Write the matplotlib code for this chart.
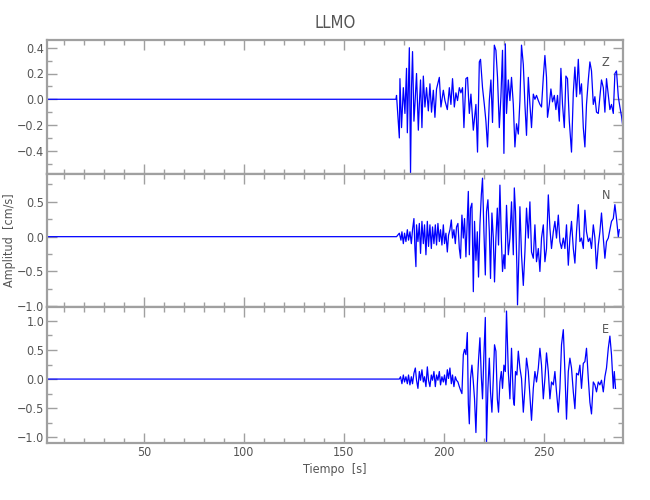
import numpy as np
import matplotlib
matplotlib.use('Agg')
from matplotlib import pyplot as plt
from matplotlib.ticker import MultipleLocator

plt.rcParams['font.family'] = ['DejaVu Sans']
plt.rcParams['font.stretch'] = 'condensed'

t_z = [0.0, 176.0, 176.3, 177.7, 178.0, 178.8, 179.7, 180.5, 181.3, 181.7, 182.7,
       183.3, 183.8, 184.3, 185.0, 185.5, 186.3, 187.2, 187.7, 188.3, 189.0,
       189.7, 190.5, 191.3, 192.2, 193.0, 193.8, 194.7, 195.5, 196.3, 197.7,
       198.5, 199.7, 200.5, 201.7, 202.7, 203.5, 204.3, 205.2, 206.0, 206.8,
       207.7, 208.5, 209.3, 210.0, 211.0, 211.8, 212.7, 213.5, 214.7, 216.0,
       216.8, 217.7, 218.3, 219.3, 220.2, 221.0, 221.8, 222.7, 223.5, 224.3,
       225.2, 226.0, 226.8, 227.7, 228.5, 229.3, 230.0, 230.7, 231.3, 232.2,
       233.0, 233.8, 234.7, 235.5, 236.3, 237.2, 238.0, 238.8, 239.7, 240.5,
       241.3, 242.2, 243.0, 243.8, 244.7, 245.5, 246.3, 247.2, 248.0, 248.8,
       249.7, 250.5, 251.3, 251.8, 252.7, 253.5, 254.3, 255.2, 256.0, 256.8,
       257.7, 258.5, 259.3, 260.2, 261.0, 261.8, 262.7, 263.8, 264.7, 265.5,
       266.3, 267.2, 268.0, 268.8, 269.7, 270.5, 271.3, 272.2, 273.0, 273.8,
       274.7, 275.5, 276.3, 277.2, 278.0, 278.8, 279.7, 280.5, 281.3, 282.2,
       283.0, 283.8, 284.7, 285.5, 286.3, 287.2, 288.0, 288.8, 289.7]
a_z = [0.0, 0.0, 0.03, -0.30, 0.16, -0.22, 0.09, -0.11, 0.24, -0.26, 0.40,
       -0.57, 0.09, 0.37, -0.17, -0.04, 0.20, -0.24, -0.04, 0.15, -0.22,
       0.18, -0.06, 0.09, -0.09, 0.12, -0.10, 0.07, -0.14, 0.08, 0.17,
       -0.06, 0.07, -0.01, -0.08, 0.09, -0.04, 0.16, -0.06, 0.05, -0.01,
       0.09, 0.05, 0.09, -0.22, 0.16, 0.17, -0.11, 0.04, -0.24, -0.04,
       -0.41, 0.29, 0.31, 0.09, -0.04, -0.17, -0.37, -0.01, 0.15, -0.18,
       0.42, 0.38, 0.17, -0.22, 0.02, 0.38, -0.42, 0.43, -0.11, 0.15,
       -0.01, 0.17, -0.04, -0.37, -0.19, -0.27, -0.01, 0.42, 0.27, -0.04,
       -0.28, 0.17, -0.04, -0.22, 0.04, 0.00, 0.03, -0.01, -0.04, -0.06,
       0.17, 0.34, 0.17, -0.14, -0.04, 0.08, -0.02, 0.03, -0.08, 0.03,
       -0.17, 0.24, -0.04, -0.22, 0.18, 0.16, -0.17, -0.41, 0.05, 0.25,
       0.02, 0.31, 0.04, 0.12, -0.22, -0.37, -0.04, 0.15, 0.29, 0.22,
       -0.04, 0.02, -0.10, -0.11, 0.02, 0.15, 0.09, -0.10, 0.16, 0.03,
       -0.08, -0.04, -0.11, 0.20, 0.22, 0.02, -0.06, -0.13, -0.24]

t_n = [0.0, 176.3, 177.7, 178.5, 179.0, 179.7, 180.3, 181.0, 181.7, 182.3, 183.0,
       183.7, 184.3, 185.0, 185.5, 186.0, 186.3, 187.0, 187.7, 188.3, 189.0,
       189.7, 190.3, 191.0, 191.7, 192.3, 193.0, 193.7, 194.3, 195.0, 195.7,
       196.3, 197.0, 197.7, 198.3, 199.0, 199.7, 200.3, 201.0, 201.7, 202.3,
       203.0, 203.7, 204.3, 205.0, 205.7, 206.3, 207.0, 207.7, 208.3, 209.0,
       209.7, 210.3, 211.0, 211.7, 212.2, 212.7, 213.3, 214.0, 214.7, 215.3,
       216.0, 216.7, 217.3, 218.0, 218.7, 219.3, 220.0, 220.7, 221.3, 222.0,
       222.7, 223.3, 224.0, 224.7, 225.3, 226.0, 226.7, 227.3, 228.0, 228.7,
       229.3, 230.0, 230.5, 231.3, 232.2, 233.0, 233.8, 234.7, 235.2, 235.8,
       236.5, 236.8, 237.5, 238.0, 238.8, 239.7, 240.5, 241.3, 242.2, 243.0,
       243.8, 244.7, 245.5, 246.3, 247.2, 248.0, 248.8, 249.7, 250.5, 251.3,
       252.2, 253.0, 253.8, 254.7, 255.5, 256.3, 257.2, 258.0, 258.8, 259.7,
       260.5, 261.3, 262.2, 263.0, 263.8, 264.7, 265.5, 266.3, 267.2, 268.0,
       268.8, 269.7, 270.5, 271.3, 272.2, 273.0, 273.8, 274.7, 275.5, 276.3,
       277.2, 278.0, 278.8, 279.7, 280.5, 281.3, 282.2, 283.0, 283.8, 284.7,
       285.5, 286.3, 287.2, 287.7]
a_n = [0.0, 0.0, 0.05, -0.05, 0.07, -0.10, 0.05, -0.07, 0.10, -0.05, 0.07,
       -0.10, 0.10, 0.26, -0.17, -0.43, 0.17, -0.07, 0.19, -0.24, 0.22,
       -0.10, 0.17, -0.26, 0.22, -0.14, 0.17, -0.17, 0.14, -0.10, 0.17,
       -0.12, 0.19, -0.07, 0.10, -0.12, 0.17, -0.10, 0.05, -0.22, 0.02,
       0.10, 0.24, -0.02, 0.10, -0.10, 0.14, 0.19, -0.17, -0.31, 0.31,
       -0.02, 0.26, -0.29, 0.24, 0.65, -0.26, 0.41, 0.48, -0.79, 0.22,
       -0.34, 0.07, -0.58, 0.17, 0.60, 0.84, 0.07, -0.55, 0.36, 0.53,
       0.07, -0.60, 0.34, -0.02, -0.65, -0.02, 0.41, -0.12, 0.74, -0.02,
       -0.50, -0.26, -0.46, 0.45, -0.26, -0.02, 0.50, -0.26, 0.70, 0.36,
       -0.46, -0.98, -0.26, 0.43, -0.26, -0.70, -0.22, 0.41, -0.02, 0.50,
       -0.22, -0.31, 0.17, -0.36, -0.17, -0.50, -0.02, 0.17, -0.36, -0.17,
       0.60, 0.12, -0.17, 0.07, 0.22, -0.02, 0.31, -0.07, -0.17, -0.02,
       -0.17, 0.17, -0.41, -0.02, 0.22, -0.17, -0.38, 0.07, 0.46, -0.07,
       -0.02, -0.17, 0.38, 0.07, -0.07, -0.02, -0.17, 0.17, -0.02, -0.46,
       -0.12, 0.07, 0.34, -0.02, -0.31, -0.07, -0.02, 0.10, 0.22, 0.26,
       0.46, 0.26, 0.00, 0.10]

t_e = [0.0, 177.7, 178.3, 179.0, 179.7, 180.3, 181.0, 181.7, 182.3, 183.0, 183.7,
       184.3, 185.0, 185.7, 186.3, 187.0, 187.7, 188.3, 189.0, 189.7, 190.3,
       191.0, 191.7, 192.3, 193.0, 193.7, 194.3, 195.0, 195.7, 196.3, 197.0,
       197.7, 198.3, 199.0, 199.7, 200.3, 201.0, 201.7, 202.3, 203.0, 203.7,
       204.3, 205.0, 205.7, 206.3, 207.0, 207.7, 208.3, 209.0, 209.7, 210.3,
       211.0, 211.7, 212.2, 212.7, 213.3, 214.0, 214.7, 215.3, 216.0, 216.7,
       217.3, 218.0, 218.7, 219.3, 220.0, 220.7, 221.3, 222.0, 222.7, 223.3,
       224.0, 224.7, 225.3, 226.0, 226.7, 227.3, 228.0, 228.7, 229.3, 230.0,
       230.7, 231.3, 232.2, 233.0, 233.8, 234.7, 235.2, 235.8, 236.5, 237.2,
       238.0, 238.8, 239.7, 240.5, 241.3, 242.2, 243.0, 243.8, 244.7, 245.5,
       246.3, 247.2, 248.0, 248.8, 249.7, 250.5, 251.3, 252.2, 253.0, 253.8,
       254.7, 255.5, 256.3, 257.2, 258.0, 258.8, 259.7, 260.5, 261.3, 262.2,
       263.0, 263.8, 264.7, 265.5, 266.3, 267.2, 268.0, 268.8, 269.7, 270.5,
       271.3, 272.2, 273.0, 273.8, 274.7, 275.5, 276.3, 277.2, 278.0, 278.8,
       279.7, 280.5, 281.3, 282.2, 283.0, 283.8, 284.7, 285.2, 285.8]
a_e = [0.0, 0.0, 0.04, -0.08, 0.07, -0.05, 0.04, -0.08, 0.07, -0.10, 0.04,
       -0.08, 0.10, 0.19, -0.02, -0.16, 0.13, -0.02, 0.16, -0.05, 0.04,
       -0.13, 0.21, -0.02, -0.13, 0.07, -0.02, 0.13, -0.13, 0.07, -0.02,
       0.13, -0.10, 0.04, -0.05, 0.07, -0.10, 0.16, 0.01, 0.19, -0.08,
       0.07, -0.13, 0.04, -0.02, -0.05, -0.13, -0.19, -0.25, 0.42, 0.51,
       0.42, 0.80, -0.42, -0.77, 0.01, 0.24, -0.05, -0.34, -0.92, -0.10,
       0.33, 0.71, 0.04, -0.34, 0.42, 1.06, -1.09, -0.16, 0.36, -0.22,
       -0.57, 0.01, 0.59, 0.48, -0.34, -0.57, -0.05, 0.13, -0.16, 0.24,
       0.13, 1.17, 0.13, -0.34, 0.53, -0.34, -0.45, 0.13, 0.07, 0.48,
       0.19, 0.01, -0.57, -0.16, 0.36, 0.13, -0.28, -0.71, -0.16, 0.13,
       -0.05, 0.19, 0.53, 0.24, -0.34, 0.01, 0.45, 0.13, -0.34, -0.05,
       -0.10, 0.13, -0.22, -0.57, -0.16, 0.59, 0.85, 0.13, -0.69, 0.13,
       0.36, 0.19, -0.22, -0.51, 0.10, 0.07, 0.24, -0.16, 0.27, 0.30,
       0.53, 0.01, -0.40, -0.60, -0.05, -0.10, -0.22, -0.05, -0.10, -0.02,
       -0.22, 0.04, 0.19, 0.53, 0.74, 0.42, -0.16, 0.13, -0.16]

comps = ['Z', 'N', 'E']
ylims = [(-0.58, 0.46), (-1.01, 0.90), (-1.10, 1.24)]
ymajor = [0.2, 0.5, 0.5]
yminor = [0.1, 0.25, 0.25]

gris = '#a0a0a0'
texto = '#555555'

fig = plt.figure(figsize=(6.5, 5), dpi=100)
bottoms = [0.652, 0.386, 0.114]
heights = [0.268, 0.266, 0.272]
datos = [(t_z, a_z), (t_n, a_n), (t_e, a_e)]

axes = []
for i in range(3):
    ax = fig.add_axes([0.0723, bottoms[i], 0.886, heights[i]])
    t, a = datos[i]
    ax.plot(t, a, color='#0000ff', lw=0.9)
    ax.set_xlim(1.5, 289.5)
    ax.set_ylim(*ylims[i])
    ax.xaxis.set_major_locator(MultipleLocator(50))
    ax.xaxis.set_minor_locator(MultipleLocator(10))
    ax.yaxis.set_major_locator(MultipleLocator(ymajor[i]))
    ax.yaxis.set_minor_locator(MultipleLocator(yminor[i]))
    ax.tick_params(which='both', direction='in', top=True, right=True,
                   color=gris, labelcolor=texto, labelsize=9, width=1, pad=2)
    ax.tick_params(which='major', length=7)
    ax.tick_params(which='minor', length=3.5)
    for s in ax.spines.values():
        s.set_color(gris)
        s.set_linewidth(1.6)
    if i < 2:
        ax.set_xticklabels([])
    ax.text(0.97, 0.835, comps[i], transform=ax.transAxes, color=texto,
            fontsize=9, ha='center', va='center')
    axes.append(ax)

axes[0].set_title('LLMO', color=texto, fontsize=12, pad=9)
axes[1].set_ylabel('Amplitud  [cm/s]', color=texto, fontsize=9)
axes[1].yaxis.set_label_coords(-0.053, 0.5)
axes[2].set_xlabel('Tiempo  [s]', color=texto, fontsize=9, labelpad=3)

fig.savefig('out.png', dpi=100)
